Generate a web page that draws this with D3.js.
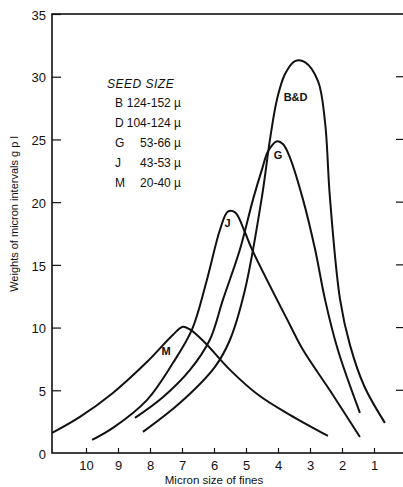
<!DOCTYPE html>
<html>
<head>
<meta charset="utf-8">
<script src="https://cdn.jsdelivr.net/npm/d3@7"></script>
<style>
  body { margin: 0; background: #fff; }
  text { font-family: "Liberation Sans", Arial, sans-serif; fill: #111; }
</style>
</head>
<body>
<script>
// size of window
const w = 403;
const h = 487;

// tick labels
const xTicks = [10, 9, 8, 7, 6, 5, 4, 3, 2, 1];
const yTicks = [0, 5, 10, 15, 20, 25, 30, 35];

// curves: [micron size, weight]
const curveM = [
  [11.06, 1.6], [10.19, 2.88], [9.16, 4.79], [8.09, 7.27], [7.28, 9.43],
  [6.97, 10.07], [6.72, 9.8], [6.28, 8.79], [5.5, 6.63], [4.6, 4.6],
  [3.63, 3.04], [2.44, 1.36]
];
const curveJ = [
  [9.81, 1.04], [9.16, 2.0], [8.09, 4.24], [7.28, 7.19], [6.69, 9.83],
  [6.22, 13.82], [5.81, 17.82], [5.56, 19.26], [5.34, 19.18], [5.03, 17.58],
  [4.81, 16.22], [3.63, 10.23], [3.22, 8.23], [2.38, 5.0], [1.44, 1.28]
];
const curveG = [
  [8.47, 2.8], [7.59, 4.47], [6.75, 6.63], [6.13, 9.03], [5.72, 12.23],
  [5.19, 16.22], [4.78, 20.22], [4.5, 22.61], [4.31, 24.05], [4.03, 24.85],
  [3.84, 24.61], [3.63, 23.57], [3.22, 20.22], [2.84, 16.22], [2.53, 12.23],
  [2.13, 8.23], [1.44, 3.2]
];
const curveBD = [
  [8.22, 1.68], [7.06, 4.0], [5.97, 6.87], [5.5, 9.03], [5.03, 13.03],
  [4.5, 20.46], [4.25, 25.01], [4.03, 28.21], [3.78, 30.21], [3.47, 31.24],
  [3.16, 31.16], [2.75, 29.65], [2.53, 26.37], [2.38, 20.46], [2.06, 12.23],
  [1.75, 8.6], [1.3, 5.3], [0.66, 2.4]
];

// curve names and where they are written
const curveNames = ["M", "J", "G", "B&D"];
const labelPos = [[7.5, 7.8], [5.58, 18.0], [4.0, 23.4], [3.45, 28.1]];

// legend
const legendKeys = ["B", "D", "G", "J", "M"];
const legendRanges = ["124-152", "104-124", "53-66", "43-53", "20-40"];

const padL = 52, padR = 404, padT = 14, padB = 453;

const xScale = d3.scaleLinear().domain([11.0625, 0.0625]).range([padL, padR]);
const yScale = d3.scaleLinear().domain([0, 35]).range([padB, padT]);

const svg = d3.select("body").append("svg").attr("width", w).attr("height", h);

// frame
svg.append("rect")
  .attr("x", padL).attr("y", padT)
  .attr("width", padR - padL).attr("height", padB - padT)
  .attr("fill", "none").attr("stroke", "#111").attr("stroke-width", 1.6);

// x axis, ticks point up
const xAxis = d3.axisBottom(xScale).tickValues(xTicks).tickSizeInner(-5).tickSizeOuter(0).tickPadding(8);
const gx = svg.append("g").attr("transform", `translate(0,${padB})`).call(xAxis);
gx.select(".domain").remove();
gx.selectAll("line").attr("stroke", "#111").attr("stroke-width", 1.2);
gx.selectAll("text").attr("font-size", "13px").attr("font-family", "Liberation Sans, Arial, sans-serif");

// y axis, ticks point in
const yAxis = d3.axisLeft(yScale).tickValues(yTicks).tickSizeInner(-9).tickSizeOuter(0).tickPadding(5);
const gy = svg.append("g").attr("transform", `translate(${padL},0)`).call(yAxis);
gy.select(".domain").remove();
gy.selectAll("line").attr("stroke", "#111").attr("stroke-width", 1.2);
gy.selectAll("text").attr("font-size", "13px").attr("font-family", "Liberation Sans, Arial, sans-serif")
  .attr("dx", "-1").attr("dy", "0.4em");
gy.selectAll(".tick").filter(d => d === 0).select("line").remove();

// right side ticks
svg.selectAll("line.rtick")
  .data(yTicks.filter(d => d > 0 && d < 35))
  .enter()
  .append("line")
  .attr("class", "rtick")
  .attr("x1", padR - 8).attr("x2", padR)
  .attr("y1", d => yScale(d)).attr("y2", d => yScale(d))
  .attr("stroke", "#111").attr("stroke-width", 1.2);

// axis titles
svg.append("text")
  .attr("x", 214).attr("y", 484)
  .attr("text-anchor", "middle")
  .attr("font-size", "11.5px")
  .text("Micron size of fines");

svg.append("text")
  .attr("transform", "translate(18,214) rotate(-90)")
  .attr("text-anchor", "middle")
  .attr("font-size", "11px")
  .text("Weights of micron intervals  g p l");

// curves
const line = d3.line()
  .x(function (d) { return xScale(d[0]); })
  .y(function (d) { return yScale(d[1]); })
  .curve(d3.curveCatmullRom.alpha(0.5));

svg.selectAll("path.curve")
  .data([curveM, curveJ, curveG, curveBD])
  .enter()
  .append("path")
  .attr("class", "curve")
  .attr("d", line)
  .attr("fill", "none")
  .attr("stroke", "#111")
  .attr("stroke-width", 2);

// curve labels
svg.selectAll("text.clabel")
  .data(curveNames)
  .enter()
  .append("text")
  .attr("class", "clabel")
  .attr("x", (d, i) => xScale(labelPos[i][0]))
  .attr("y", (d, i) => yScale(labelPos[i][1]))
  .attr("text-anchor", "middle")
  .attr("font-size", "11px")
  .attr("font-weight", "bold")
  .text(d => d);

// legend
svg.append("text")
  .attr("x", 107).attr("y", 88)
  .attr("font-size", "12px")
  .attr("font-style", "italic")
  .attr("letter-spacing", "0.5px")
  .text("SEED SIZE");

const leg = svg.selectAll("g.leg")
  .data(legendKeys)
  .enter()
  .append("g")
  .attr("class", "leg")
  .attr("transform", (d, i) => `translate(0,${107 + i * 20})`);

leg.append("text")
  .attr("x", 115)
  .attr("font-size", "12px")
  .text(d => d);

leg.append("text")
  .attr("x", 181)
  .attr("text-anchor", "end")
  .attr("font-size", "12px")
  .text((d, i) => legendRanges[i] + " \u00b5");
</script>
</body>
</html>
